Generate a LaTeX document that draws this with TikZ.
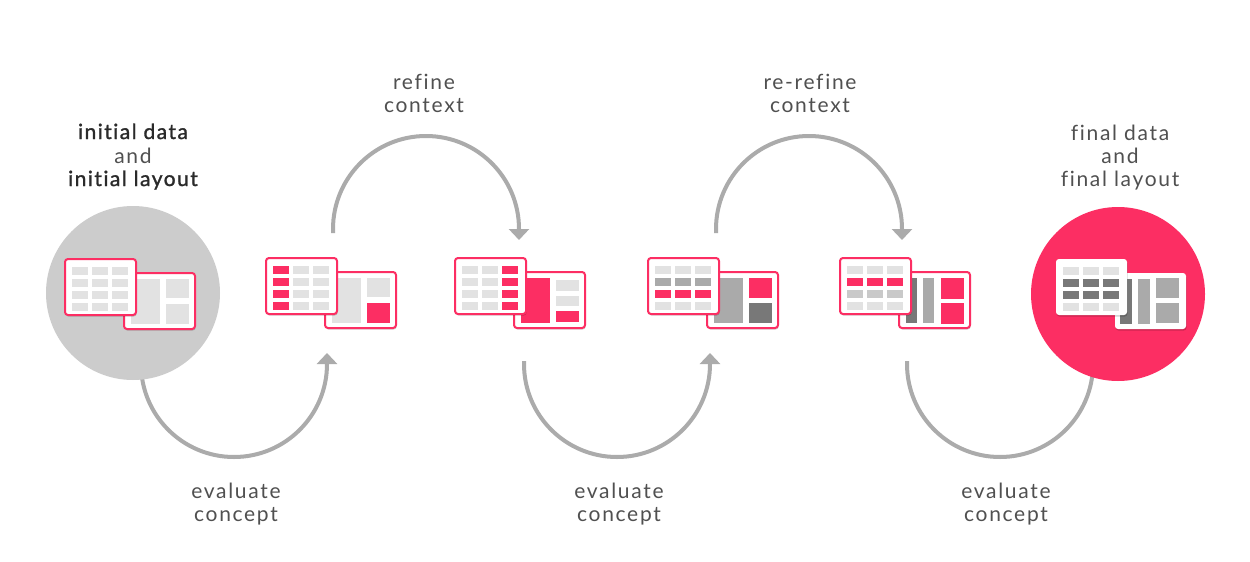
\documentclass[tikz,border=0pt]{standalone}
\usepackage{fontspec}
\setmainfont{Lato}[LetterSpace=8,Ligatures={NoCommon}]
\newfontfamily\semifont{Lato}[LetterSpace=7,Ligatures={NoCommon},FakeBold=1.2]
\usetikzlibrary{arrows.meta,shadows}
\definecolor{pink}{HTML}{FC2E63}
\definecolor{circgray}{HTML}{CCCCCC}
\definecolor{arcgray}{HTML}{ABABAB}
\definecolor{cellL}{HTML}{E2E2E2}
\definecolor{cellM}{HTML}{AAAAAA}
\definecolor{cellD}{HTML}{787878}
\definecolor{cellS}{HTML}{C9C9C9}
\definecolor{txt}{HTML}{505050}
\definecolor{txtb}{HTML}{2A2A2A}
\tikzset{
  flow/.style={draw=arcgray, line width=4pt, -{Triangle[width=20pt,length=11pt]}},
  flowplain/.style={draw=arcgray, line width=4pt},
  card/.style={fill=white, rounded corners=3pt, line width=2pt,
    drop shadow={shadow xshift=0.6pt, shadow yshift=-1.6pt, opacity=0.18, fill=black}},
  pinkcard/.style={card, draw=pink},
  whitecard/.style={card, draw=none},
  bigcirc/.style={circle, minimum size=174pt, inner sep=0pt, draw=none},
  lbl/.style={font=\fontsize{21}{24}\selectfont, text=txt, anchor=base, inner sep=0pt},
  lblb/.style={lbl, text=txtb, font=\fontsize{21}{24}\selectfont\semifont},
}
\newcommand\tcard[1]{\draw[#1] (0,0) rectangle (71,56);}
\newcommand\lcard[1]{\draw[#1] (59,14) rectangle (130,70);}
\newcommand\tcell[3]{\fill[#3] ({7+20*#1},{8+12*#2}) rectangle ++(16,7.5);}
\newcommand\allcells[1]{\foreach \cc in {0,1,2}{\foreach \rr in {0,1,2,3}{\tcell{\cc}{\rr}{#1}}}}
\begin{document}
\begin{tikzpicture}[x=1pt,y=-1pt]
\useasboundingbox (0,0) rectangle (1250,562);
\fill[white] (0,0) rectangle (1250,562);

% connectors (arcs)
\coordinate (b1s) at (141,330);
\coordinate (b1e) at (327,353);
\draw[flow] (b1s) -- (141,364) arc[start angle=180,end angle=360,radius=93pt] -- (b1e);
\coordinate (t1s) at (333,233);
\coordinate (t1e) at (519,240);
\draw[flow] (t1s) -- (333,229) arc[start angle=180,end angle=0,radius=93pt] -- (t1e);
\coordinate (b2s) at (524,361);
\coordinate (b2e) at (710,353);
\draw[flow] (b2s) -- (524,364) arc[start angle=180,end angle=360,radius=93pt] -- (b2e);
\coordinate (t2s) at (716,233);
\coordinate (t2e) at (902,240);
\draw[flow] (t2s) -- (716,229) arc[start angle=180,end angle=0,radius=93pt] -- (t2e);
\coordinate (b3s) at (907,361);
\coordinate (b3e) at (1093,330);
\draw[flowplain] (b3s) -- (907,364) arc[start angle=180,end angle=360,radius=93pt] -- (b3e);

% circles
\node[bigcirc, fill=circgray] (cstart) at (133,293) {};
\node[bigcirc, fill=pink] (cend) at (1118,294) {};

% icon 1
\begin{scope}[shift={(65,259)}]
  \lcard{pinkcard}
  \fill[cellL] (66,20) rectangle (95,65);
  \fill[cellL] (101,20) rectangle (124,39);
  \fill[cellL] (101,45) rectangle (124,65);
  \tcard{pinkcard}
  \allcells{cellL}
\end{scope}

% icon 2
\begin{scope}[shift={(266,258)}]
  \lcard{pinkcard}
  \fill[cellL] (66,20) rectangle (95,65);
  \fill[cellL] (101,20) rectangle (124,39);
  \fill[pink] (101,45) rectangle (124,65);
  \tcard{pinkcard}
  \allcells{cellL}
  \foreach \rr in {0,1,2,3}{\tcell{0}{\rr}{pink}}
\end{scope}

% icon 3
\begin{scope}[shift={(455,258)}]
  \lcard{pinkcard}
  \fill[pink] (66,20) rectangle (95,65);
  \fill[cellL] (101,22) rectangle (124,33);
  \fill[cellL] (101,37.5) rectangle (124,48);
  \fill[pink] (101,53) rectangle (124,64);
  \tcard{pinkcard}
  \allcells{cellL}
  \foreach \rr in {0,1,2,3}{\tcell{2}{\rr}{pink}}
\end{scope}

% icon 4
\begin{scope}[shift={(648,258)}]
  \lcard{pinkcard}
  \fill[cellM] (66,20) rectangle (95,65);
  \fill[pink] (101,20) rectangle (124,40);
  \fill[cellD] (101,45) rectangle (124,65);
  \tcard{pinkcard}
  \allcells{cellL}
  \foreach \cc in {0,1,2}{\tcell{\cc}{1}{cellM}\tcell{\cc}{2}{pink}}
\end{scope}

% icon 5
\begin{scope}[shift={(840,258)}]
  \lcard{pinkcard}
  \fill[cellD] (66,20) rectangle (77,65);
  \fill[cellM] (83,20) rectangle (94,65);
  \fill[pink] (101,20) rectangle (124,41);
  \fill[pink] (101,45) rectangle (124,66);
  \tcard{pinkcard}
  \allcells{cellL}
  \foreach \cc in {0,1,2}{\tcell{\cc}{1}{pink}\tcell{\cc}{2}{cellS}}
\end{scope}

% icon 6
\begin{scope}[shift={(1056,259)}]
  \lcard{whitecard}
  \fill[cellD] (64,20) rectangle (76,65);
  \fill[cellM] (82,20) rectangle (94,65);
  \fill[cellM] (100,19) rectangle (123,39);
  \fill[cellM] (100,44) rectangle (123,64);
  \tcard{whitecard}
  \allcells{cellL}
  \foreach \cc in {0,1,2}{\tcell{\cc}{1}{cellD}\tcell{\cc}{2}{cellD}}
\end{scope}

% labels
\node[lblb] (s1) at (133,139) {initial data};
\node[lbl]  (s2) at (133,163) {and};
\node[lblb] (s3) at (133,186) {initial layout};

\node[lbl] (f1) at (1120,140) {final data};
\node[lbl] (f2) at (1120,163) {and};
\node[lbl] (f3) at (1120,186) {final layout};

\node[lbl] (r1a) at (424,89) {refine};
\node[lbl] (r1b) at (424,112) {context};
\node[lbl] (r2a) at (810,89) {re-refine};
\node[lbl] (r2b) at (810,112) {context};

\node[lbl] (e1a) at (236,498) {evaluate};
\node[lbl] (e1b) at (236,521) {concept};
\node[lbl] (e2a) at (619,498) {evaluate};
\node[lbl] (e2b) at (619,521) {concept};
\node[lbl] (e3a) at (1006,498) {evaluate};
\node[lbl] (e3b) at (1006,521) {concept};
\end{tikzpicture}
\end{document}
